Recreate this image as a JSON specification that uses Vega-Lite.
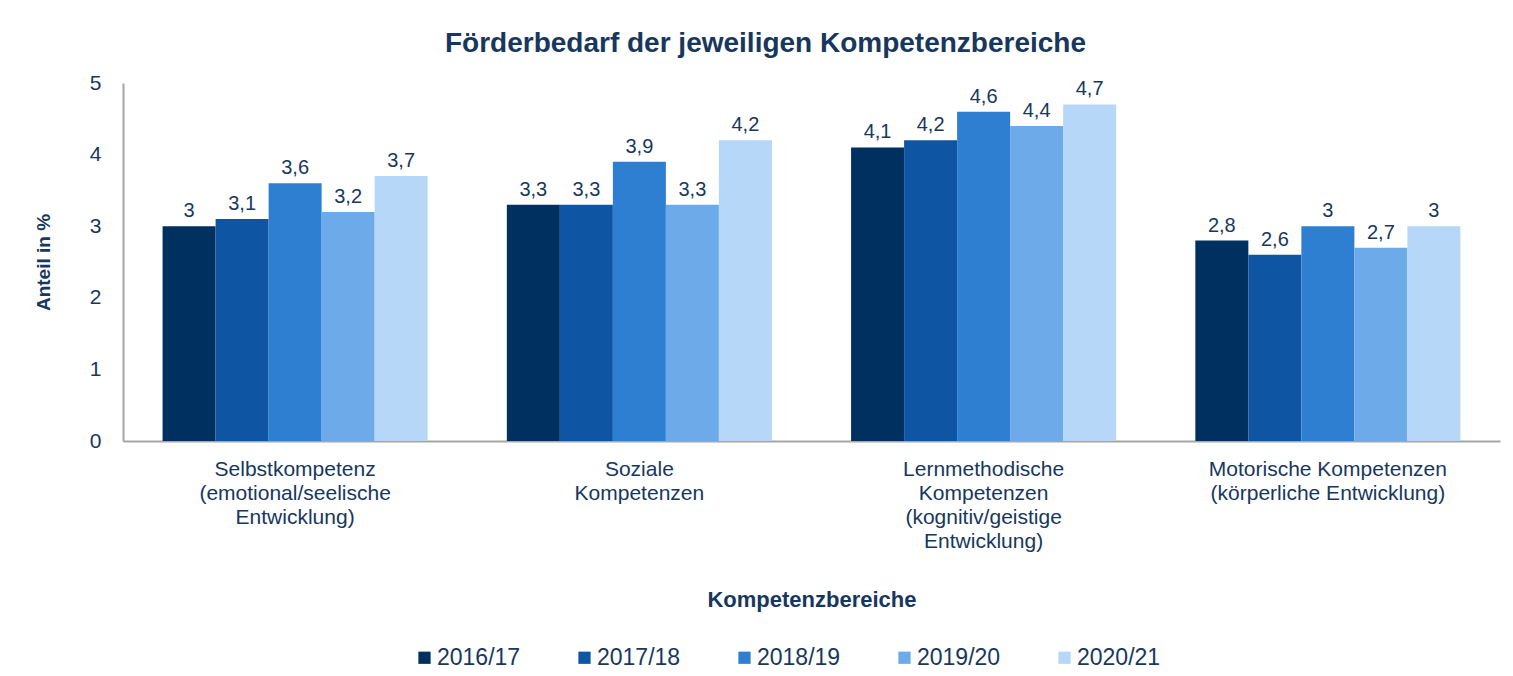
{
  "$schema": "https://vega.github.io/schema/vega-lite/v6.json",
  "width": 1377,
  "height": 358,
  "autosize": {"type": "none"},
  "padding": {"left": 123, "top": 83, "right": 13, "bottom": 235},
  "background": "white",
  "title": {
    "text": "Förderbedarf der jeweiligen Kompetenzbereiche",
    "anchor": "middle",
    "frame": "group",
    "dx": -46,
    "offset": 14,
    "fontSize": 28,
    "fontWeight": "bold",
    "font": "Liberation Sans",
    "color": "#17375E"
  },
  "data": {
    "values": [
      {"bereich": "Selbstkompetenz|(emotional/seelische|Entwicklung)", "jahr": "2016/17", "wert": 3.0},
      {"bereich": "Selbstkompetenz|(emotional/seelische|Entwicklung)", "jahr": "2017/18", "wert": 3.1},
      {"bereich": "Selbstkompetenz|(emotional/seelische|Entwicklung)", "jahr": "2018/19", "wert": 3.6},
      {"bereich": "Selbstkompetenz|(emotional/seelische|Entwicklung)", "jahr": "2019/20", "wert": 3.2},
      {"bereich": "Selbstkompetenz|(emotional/seelische|Entwicklung)", "jahr": "2020/21", "wert": 3.7},
      {"bereich": "Soziale|Kompetenzen", "jahr": "2016/17", "wert": 3.3},
      {"bereich": "Soziale|Kompetenzen", "jahr": "2017/18", "wert": 3.3},
      {"bereich": "Soziale|Kompetenzen", "jahr": "2018/19", "wert": 3.9},
      {"bereich": "Soziale|Kompetenzen", "jahr": "2019/20", "wert": 3.3},
      {"bereich": "Soziale|Kompetenzen", "jahr": "2020/21", "wert": 4.2},
      {"bereich": "Lernmethodische|Kompetenzen|(kognitiv/geistige|Entwicklung)", "jahr": "2016/17", "wert": 4.1},
      {"bereich": "Lernmethodische|Kompetenzen|(kognitiv/geistige|Entwicklung)", "jahr": "2017/18", "wert": 4.2},
      {"bereich": "Lernmethodische|Kompetenzen|(kognitiv/geistige|Entwicklung)", "jahr": "2018/19", "wert": 4.6},
      {"bereich": "Lernmethodische|Kompetenzen|(kognitiv/geistige|Entwicklung)", "jahr": "2019/20", "wert": 4.4},
      {"bereich": "Lernmethodische|Kompetenzen|(kognitiv/geistige|Entwicklung)", "jahr": "2020/21", "wert": 4.7},
      {"bereich": "Motorische Kompetenzen|(körperliche Entwicklung)", "jahr": "2016/17", "wert": 2.8},
      {"bereich": "Motorische Kompetenzen|(körperliche Entwicklung)", "jahr": "2017/18", "wert": 2.6},
      {"bereich": "Motorische Kompetenzen|(körperliche Entwicklung)", "jahr": "2018/19", "wert": 3.0},
      {"bereich": "Motorische Kompetenzen|(körperliche Entwicklung)", "jahr": "2019/20", "wert": 2.7},
      {"bereich": "Motorische Kompetenzen|(körperliche Entwicklung)", "jahr": "2020/21", "wert": 3.0}
    ]
  },
  "encoding": {
    "x": {
      "field": "bereich",
      "type": "nominal",
      "sort": null,
      "scale": {"paddingInner": 0.23, "paddingOuter": 0.115},
      "axis": {
        "title": "Kompetenzbereiche",
        "labelAngle": 0,
        "labelExpr": "split(datum.label, '|')",
        "labelLineHeight": 24,
        "labelPadding": 17,
        "labelFontSize": 21,
        "labelLimit": 400,
        "labelOverlap": false,
        "ticks": false,
        "domainColor": "#A6A6A6",
        "domainWidth": 2,
        "titlePadding": 38,
        "titleFontSize": 22,
        "titleFontWeight": "bold"
      }
    },
    "xOffset": {"field": "jahr", "type": "nominal", "sort": null, "scale": {"paddingInner": 0, "paddingOuter": 0}},
    "y": {
      "field": "wert",
      "type": "quantitative",
      "scale": {"domain": [0, 5]},
      "axis": {
        "title": "Anteil in %",
        "values": [0, 1, 2, 3, 4, 5],
        "labelOverlap": false,
        "grid": false,
        "ticks": false,
        "labelPadding": 22,
        "labelFontSize": 21,
        "domainColor": "#A6A6A6",
        "domainWidth": 2,
        "titlePadding": 36,
        "titleFontSize": 19,
        "titleFontWeight": "bold"
      }
    }
  },
  "layer": [
    {
      "mark": {"type": "bar"},
      "encoding": {
        "color": {
          "field": "jahr",
          "type": "nominal",
          "sort": null,
          "scale": {
            "domain": ["2016/17", "2017/18", "2018/19", "2019/20", "2020/21"],
            "range": ["#00305F", "#0E56A3", "#2E7FD2", "#6DAAE9", "#B6D7F8"]
          },
          "legend": {
            "title": null,
            "orient": "none",
            "legendX": 290,
            "legendY": 563,
            "direction": "horizontal",
            "symbolType": "square",
            "symbolSize": 150,
            "symbolStrokeWidth": 0,
            "labelFontSize": 23,
            "labelOffset": 1,
            "columnPadding": 52
          }
        }
      }
    },
    {
      "mark": {"type": "text", "baseline": "bottom", "dy": -5, "fontSize": 20, "color": "#17375E", "font": "Liberation Sans"},
      "encoding": {
        "text": {"field": "wert", "type": "quantitative", "format": ".1~f"}
      }
    }
  ],
  "config": {
    "locale": {"number": {"decimal": ",", "thousands": ".", "grouping": [3], "currency": ["", " €"]}},
    "font": "Liberation Sans",
    "view": {"stroke": null},
    "axis": {
      "labelColor": "#17375E",
      "titleColor": "#17375E",
      "labelFont": "Liberation Sans",
      "titleFont": "Liberation Sans"
    },
    "legend": {
      "labelColor": "#17375E",
      "labelFont": "Liberation Sans"
    }
  }
}
